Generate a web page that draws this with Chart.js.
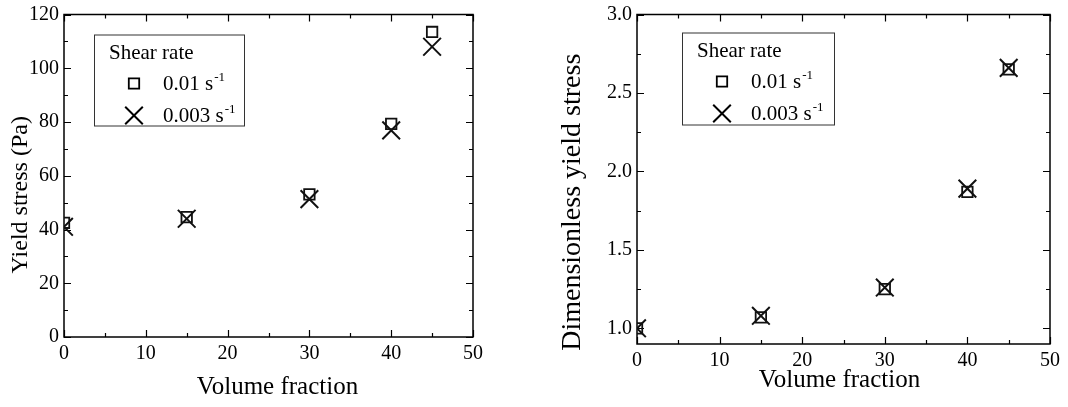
<!DOCTYPE html>
<html>
<head>
<meta charset="utf-8">
<script src="https://cdn.jsdelivr.net/npm/chart.js@4"></script>
<style>
  html, body { margin: 0; padding: 0; background: #fff; }
  #wrap { position: relative; width: 1068px; height: 407px; }
  .panel { position: absolute; top: 0; width: 534px; height: 407px; }
</style>
</head>
<body>
<div id="wrap">
  <div class="panel" style="left:0"><canvas id="stressChart" width="534" height="407"></canvas></div>
  <div class="panel" style="left:534px"><canvas id="ratioChart" width="534" height="407"></canvas></div>
</div>
<script>
// volume fraction (x) shared by both panels
const volumeFraction = [0, 15, 30, 40, 45];

// left panel: yield stress (Pa)
const stressFast = [42.5, 44.6, 53.1, 79.3, 113.5];   // 0.01 s-1
const stressSlow = [41, 44, 51.3, 76.9, 108];         // 0.003 s-1

// right panel: dimensionless yield stress
const ratioFast = [1.0, 1.07, 1.25, 1.87, 2.65];
const ratioSlow = [1.0, 1.08, 1.26, 1.89, 2.66];

const xTicks = [0, 10, 20, 30, 40, 50];
const stressTicks = [0, 20, 40, 60, 80, 100, 120];
const ratioTicks = [1.0, 1.5, 2.0, 2.5, 3.0];

const legendTitle = 'Shear rate';
const rateLabels = ['0.01 s', '0.003 s'];
const rateSup = '-1';

const FONT = '"Liberation Serif", "Times New Roman", serif';
const INK = '#000';

function drawMarker(ctx, style, x, y) {
  ctx.beginPath();
  if (style === 'rect') {
    ctx.lineWidth = 1.8;
    ctx.rect(x - 5.2, y - 5.2, 10.4, 10.4);
  } else {
    ctx.lineWidth = 2;
    ctx.moveTo(x - 8.8, y - 8.8); ctx.lineTo(x + 8.8, y + 8.8);
    ctx.moveTo(x - 8.8, y + 8.8); ctx.lineTo(x + 8.8, y - 8.8);
  }
  ctx.stroke();
}

function minorsOf(vals) {
  const out = [];
  for (let i = 0; i < vals.length - 1; i++) out.push((vals[i] + vals[i + 1]) / 2);
  return out;
}

// frame with inward ticks on all four sides
const framePlugin = {
  id: 'frame',
  beforeDatasetsDraw(chart) {
    const { ctx, chartArea: a, scales: { x, y } } = chart;
    ctx.save();
    ctx.strokeStyle = INK;
    ctx.lineWidth = 1.5;
    ctx.strokeRect(a.left, a.top, a.right - a.left, a.bottom - a.top);
    ctx.lineWidth = 1.2;
    const xv = x.ticks.map(t => t.value), yv = y.ticks.map(t => t.value);
    const tick = (vals, len, horiz) => {
      vals.forEach(v => {
        ctx.beginPath();
        if (horiz) {
          const px = Math.round(x.getPixelForValue(v)) + 0.5;
          ctx.moveTo(px, a.bottom); ctx.lineTo(px, a.bottom - len);
          ctx.moveTo(px, a.top); ctx.lineTo(px, a.top + len);
        } else {
          const py = Math.round(y.getPixelForValue(v)) + 0.5;
          ctx.moveTo(a.left, py); ctx.lineTo(a.left + len, py);
          ctx.moveTo(a.right, py); ctx.lineTo(a.right - len, py);
        }
        ctx.stroke();
      });
    };
    tick(xv, 7, true); tick(minorsOf(xv), 4, true);
    tick(yv, 7, false); tick(minorsOf(yv), 4, false);
    ctx.restore();
  },
  afterDraw(chart, args, opts) {
    const { ctx, chartArea: a } = chart;
    ctx.save();
    ctx.fillStyle = INK;
    ctx.strokeStyle = INK;

    // axis titles
    ctx.textAlign = 'center';
    ctx.textBaseline = 'alphabetic';
    ctx.font = opts.xTitleSize + 'px ' + FONT;
    ctx.fillText(opts.xTitle, (a.left + a.right) / 2 + opts.xTitleDx, a.bottom + opts.xTitleDy);
    ctx.save();
    ctx.translate(a.left + opts.yTitleDx, (a.top + a.bottom) / 2 + opts.yTitleDy);
    ctx.rotate(-Math.PI / 2);
    ctx.textBaseline = 'middle';
    ctx.font = opts.yTitleSize + 'px ' + FONT;
    ctx.fillText(opts.yTitle, 0, 0);
    ctx.restore();

    // legend box
    const bx = a.left + opts.box[0], by = a.top + opts.box[1];
    ctx.lineWidth = 1;
    ctx.strokeStyle = '#333';
    ctx.strokeRect(bx + 0.5, by + 0.5, opts.box[2], opts.box[3]);
    ctx.strokeStyle = INK;
    ctx.textAlign = 'left';
    ctx.font = '21px ' + FONT;
    ctx.fillText(legendTitle, bx + 15, by + 24);
    ['rect', 'crossRot'].forEach((style, i) => {
      const my = by + 49 + i * 32;
      drawMarker(ctx, style, bx + 40, my);
      ctx.font = '21px ' + FONT;
      ctx.fillText(rateLabels[i], bx + 69, my + 6);
      const w = ctx.measureText(rateLabels[i]).width;
      ctx.font = '13px ' + FONT;
      ctx.fillText(rateSup, bx + 70 + w, my - 3);
    });
    ctx.restore();
  }
};

function linearAxis(min, max, values, fmt, fit) {
  return {
    type: 'linear', min, max,
    grid: { display: false, drawTicks: false },
    border: { display: false },
    afterBuildTicks: s => { s.ticks = values.map(v => ({ value: v })); },
    afterFit: fit,
    ticks: {
      color: INK, padding: 5, autoSkip: false, maxRotation: 0,
      font: { family: FONT, size: 20 },
      callback: fmt
    }
  };
}

function scatterSet(label, data, style, radius, width) {
  return {
    label,
    data: volumeFraction.map((v, i) => ({ x: v, y: data[i] })),
    pointStyle: style, pointRadius: radius, borderWidth: width,
    borderColor: '#111', backgroundColor: 'rgba(0,0,0,0)',
    showLine: false, clip: 0
  };
}

function makeChart(id, sets, yMin, yMax, yValues, yFmt, lay, frame) {
  return new Chart(document.getElementById(id), {
    type: 'scatter',
    data: { datasets: sets },
    options: {
      responsive: false, animation: false, events: [],
      layout: { padding: { top: lay.top, right: lay.right, left: 0, bottom: 0 } },
      plugins: { legend: { display: false }, tooltip: { enabled: false }, frame },
      scales: {
        x: linearAxis(0, 50, xTicks, v => v, s => { s.height = lay.xh; s.paddingLeft = 0; s.paddingRight = 0; }),
        y: linearAxis(yMin, yMax, yValues, yFmt, s => { s.width = lay.yw; s.paddingTop = 0; s.paddingBottom = 0; })
      }
    },
    plugins: [framePlugin]
  });
}

makeChart('stressChart',
  [scatterSet('0.01 s-1', stressFast, 'rect', 7.4, 1.8), scatterSet('0.003 s-1', stressSlow, 'crossRot', 12.5, 2)],
  0, 120, stressTicks, v => v,
  { top: 9, right: 61, xh: 70, yw: 64 },
  { xTitle: 'Volume fraction', xTitleSize: 25, xTitleDx: 9, xTitleDy: 57,
    yTitle: 'Yield stress (Pa)', yTitleSize: 24, yTitleDx: -43, yTitleDy: 19,
    box: [30, 20, 150, 91] });

makeChart('ratioChart',
  [scatterSet('0.01 s-1', ratioFast, 'rect', 7.4, 1.8), scatterSet('0.003 s-1', ratioSlow, 'crossRot', 12.5, 2)],
  0.9, 3.0, ratioTicks, v => v.toFixed(1),
  { top: 10, right: 18, xh: 63, yw: 103 },
  { xTitle: 'Volume fraction', xTitleSize: 25, xTitleDx: -4, xTitleDy: 43,
    yTitle: 'Dimensionless yield stress', yTitleSize: 28, yTitleDx: -64, yTitleDy: 23,
    box: [45, 18, 152, 92] });
</script>
</body>
</html>
